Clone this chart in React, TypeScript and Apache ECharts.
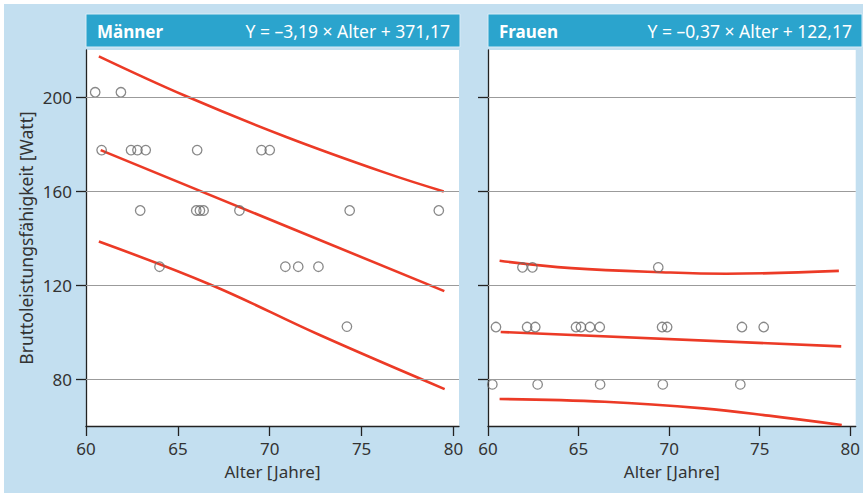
import React, { useEffect, useRef } from "react";
import * as echarts from "echarts";

const xTicks = [60, 65, 70, 75, 80];
const yTicks = [80, 120, 160, 200];

const panelTitles = ["Männer", "Frauen"];
const equations = ["Y = –3,19 × Alter + 371,17", "Y = –0,37 × Alter + 122,17"];

const menAge = [60.5, 61.9, 60.85, 62.45, 62.8, 63.25, 66.05, 69.55, 70.0, 62.95, 66.0, 66.2, 66.4, 68.35, 74.35, 79.2, 64.0, 70.85, 71.55, 72.65, 74.2];
const menWatt = [202, 202, 177.4, 177.4, 177.4, 177.4, 177.4, 177.4, 177.4, 151.7, 151.7, 151.7, 151.7, 151.7, 151.7, 151.7, 127.8, 127.8, 127.8, 127.8, 102.3];

const womenAge = [61.9, 62.45, 69.4, 60.44, 62.16, 62.61, 64.86, 65.13, 65.63, 66.17, 69.61, 69.89, 74.02, 75.22, 60.24, 62.74, 66.19, 69.65, 73.93];
const womenWatt = [127.5, 127.5, 127.5, 102.1, 102.1, 102.1, 102.1, 102.1, 102.1, 102.1, 102.1, 102.1, 102.1, 102.1, 77.7, 77.7, 77.7, 77.7, 77.7];

const menFitAge = [60.8, 79.5];
const menFitWatt = [177.4, 117.4];
const menUpperAge = [60.7, 65.46, 70.9, 76.35, 79.47];
const menUpperWatt = [217.3, 200.3, 183.0, 167.6, 159.8];
const menLowerAge = [60.7, 66.82, 72.72, 79.52];
const menLowerWatt = [138.5, 120.0, 98.7, 75.7];

const womenFitAge = [60.7, 79.5];
const womenFitWatt = [100.0, 93.9];
const womenUpperAge = [60.64, 64.6, 70.07, 73.15, 79.37];
const womenUpperWatt = [130.3, 127.2, 125.3, 124.8, 126.0];
const womenLowerAge = [60.64, 66.44, 71.88, 75.5, 79.53];
const womenLowerWatt = [71.5, 70.3, 67.5, 64.4, 60.4];

const zip = (a: number[], b: number[]) => a.map((v, i) => [v, b[i]]);

const FONT = "'Noto Sans', sans-serif";
const TXT = "#333333";
const AXIS = "#222222";
const RED = "#ec3a26";
const HEADER = "#2ba4cd";
const BG = "#c3dff0";

export default function App() {
  const ref = useRef<HTMLDivElement>(null);

  useEffect(() => {
    if (!ref.current) return;
    const chart = echarts.init(ref.current, undefined, { renderer: "svg" });

    const gridLefts = [82, 484];
    const xAxes = gridLefts.map((_, i) => ({
      type: "value",
      gridIndex: i,
      min: 60,
      max: 80.3,
      name: "Alter [Jahre]",
      nameLocation: "middle",
      nameGap: 37,
      nameTextStyle: { color: TXT, fontSize: 17, fontFamily: FONT },
      axisLine: { show: true, lineStyle: { color: AXIS, width: 1.3 } },
      axisTick: { show: true, length: 10, customValues: xTicks, lineStyle: { color: AXIS, width: 1.3 } },
      axisLabel: { customValues: xTicks, color: TXT, fontSize: 17, fontFamily: FONT, margin: 14 },
      splitLine: { show: false },
    }));
    const yAxes = gridLefts.map((_, i) => ({
      type: "value",
      gridIndex: i,
      min: 60,
      max: 220,
      name: i === 0 ? "Bruttoleistungsfähigkeit [Watt]" : "",
      nameLocation: "middle",
      nameGap: 51,
      nameTextStyle: { color: TXT, fontSize: 17.5, fontFamily: FONT },
      axisLine: { show: true, lineStyle: { color: AXIS, width: 1.3 } },
      axisTick: { show: true, length: 10, customValues: yTicks, lineStyle: { color: AXIS, width: 1.3 } },
      axisLabel: { show: i === 0, customValues: yTicks, color: TXT, fontSize: 17, fontFamily: FONT, margin: 14 },
      splitLine: { show: false },
    }));

    const panels = [
      { pts: zip(menAge, menWatt), fit: zip(menFitAge, menFitWatt), up: zip(menUpperAge, menUpperWatt), lo: zip(menLowerAge, menLowerWatt) },
      { pts: zip(womenAge, womenWatt), fit: zip(womenFitAge, womenFitWatt), up: zip(womenUpperAge, womenUpperWatt), lo: zip(womenLowerAge, womenLowerWatt) },
    ];

    const series: any[] = [];
    panels.forEach((p, i) => {
      series.push({
        type: "line",
        xAxisIndex: i,
        yAxisIndex: i,
        data: [],
        z: 1,
        markLine: {
          silent: true,
          symbol: ["none", "none"],
          label: { show: false },
          lineStyle: { color: "#9b9b9b", width: 1, type: "solid" },
          data: yTicks.map((v) => ({ yAxis: v })),
        },
      });
      [p.up, p.fit, p.lo].forEach((d) => {
        series.push({
          type: "line",
          xAxisIndex: i,
          yAxisIndex: i,
          data: d,
          smooth: 0.4,
          showSymbol: false,
          symbol: "none",
          lineStyle: { color: RED, width: 2.6 },
          z: 2,
        });
      });
      series.push({
        type: "scatter",
        xAxisIndex: i,
        yAxisIndex: i,
        data: p.pts,
        symbol: "circle",
        symbolSize: 9.5,
        itemStyle: { color: "rgba(255,255,255,0)", borderColor: "#6a6a6a", borderWidth: 1.3 },
        z: 3,
      });
    });

    const graphic: any[] = [];
    gridLefts.forEach((gx, i) => {
      graphic.push({
        type: "rect",
        shape: { x: gx, y: 10, width: 374, height: 33 },
        style: { fill: HEADER, stroke: "#d8ecf7", lineWidth: 1 },
      });
      graphic.push({
        type: "text",
        x: gx + 11,
        y: 27,
        style: { text: panelTitles[i], fill: "#ffffff", font: `bold 17px ${FONT}`, verticalAlign: "middle" },
      });
      graphic.push({
        type: "text",
        x: gx + 364,
        y: 27,
        style: { text: equations[i], fill: "#ffffff", font: `17.5px ${FONT}`, align: "right", verticalAlign: "middle" },
      });
    });

    chart.setOption({
      animation: false,
      grid: gridLefts.map((l) => ({
        left: l,
        top: 46,
        width: 373,
        height: 376,
        show: true,
        backgroundColor: "#ffffff",
        borderWidth: 0,
      })),
      xAxis: xAxes,
      yAxis: yAxes,
      series,
      graphic,
    });

    return () => chart.dispose();
  }, []);

  return (
    <div style={{ position: "fixed", left: 0, top: 0, width: 863, height: 493, background: "#ffffff" }}>
      <div
        ref={ref}
        style={{ position: "absolute", left: 4, top: 4, width: 859, height: 489, background: BG }}
      />
    </div>
  );
}
